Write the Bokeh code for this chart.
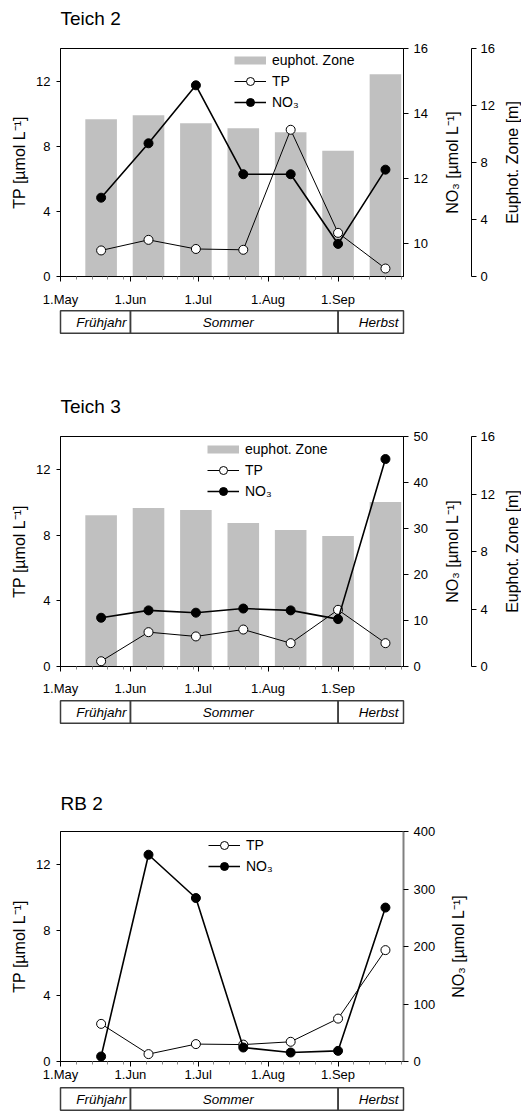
import pandas as pd
from bokeh.plotting import figure
from bokeh.layouts import column, row
from bokeh.models import (Range1d, LinearAxis, FixedTicker, Legend, LegendItem,
                          ColumnDataSource, Whisker, TeeHead, Title)
from bokeh.core.properties import value
from bokeh.embed import file_html
from bokeh.resources import INLINE

# ---------------------------------------------------------------- data
YEAR = 2007
sample_dates = ["05-19", "06-09", "06-30", "07-21", "08-11", "09-01", "09-22"]

# Teich 2
teich2_tp = [1.60, 2.25, 1.69, 1.64, 9.01, 2.68, 0.49]
teich2_no3 = [11.42, 13.09, 14.87, 12.14, 12.14, 10.00, 12.28]
teich2_no3_sd = [0, 0, 0, 0, 0, 0.18, 0]
teich2_zeu = [11.04, 11.32, 10.76, 10.41, 10.13, 8.83, 14.19]

# Teich 3
teich3_tp = [0.32, 2.09, 1.83, 2.25, 1.42, 3.45, 1.42]
teich3_no3 = [10.6, 12.2, 11.7, 12.6, 12.2, 10.3, 45.1]
teich3_zeu = [10.52, 11.03, 10.89, 9.99, 9.50, 9.08, 11.45]

# RB 2
rb2_tp = [2.29, 0.45, 1.06, 1.03, 1.20, 2.61, 6.78]
rb2_no3 = [8.7, 359.6, 284.3, 24.3, 15.6, 18.5, 267.7]

month_ticks = ["05-01", "06-01", "07-01", "08-01", "09-01"]
month_labels = ["1.May", "1.Jun", "1.Jul", "1.Aug", "1.Sep"]
axis_end = "09-30"
season_names = ["Frühjahr", "Sommer", "Herbst"]
season_bounds = ["05-01", "06-01", "09-01", "09-30"]

# ---------------------------------------------------------------- helpers
START = pd.Timestamp(f"{YEAR}-05-01")


def day(md):
    return (pd.Timestamp(f"{YEAR}-{md}") - START).days


FONT = "Liberation Sans"
BAR_GRAY = "#c0c0c0"
W = 521
MAIN_W = 438          # main plot incl. left axis and NO3 axis
BORDER_L = 60
FRAME_W = 343
X0, X1 = day(month_ticks[0]), day(axis_end)
x_days = [day(d) for d in sample_dates]
major_days = [day(m) for m in month_ticks]
minor_days = []
for i, d in enumerate(major_days):
    nxt = major_days[i + 1] if i + 1 < len(major_days) else X1
    minor_days += [d + k for k in (7, 14, 21, 28) if d + k < nxt]


def style_axis(ax, tick_out=5, standoff=5, label_standoff=5):
    ax.axis_label_text_font = FONT
    ax.axis_label_text_font_size = "16px"
    ax.axis_label_text_font_style = "normal"
    ax.axis_label_text_color = "black"
    ax.axis_label_standoff = label_standoff
    ax.major_label_text_font = FONT
    ax.major_label_text_font_size = "13px"
    ax.major_label_text_color = "black"
    ax.major_label_standoff = standoff
    ax.major_tick_in = 0
    ax.major_tick_out = tick_out
    ax.minor_tick_in = 0
    ax.minor_tick_out = 0
    ax.axis_line_color = "black"
    ax.major_tick_line_color = "black"


def side_title(text, standoff):
    return Title(text=text, align="center", text_font=FONT, text_font_size="16px",
                 text_font_style="normal", text_color="black", standoff=standoff)


def blank_fig(width, height, border_top, border_bottom, border_left, border_right,
              y_range, axis_right):
    f = figure(width=width, height=height, x_range=Range1d(0, 1), y_range=y_range,
               min_border_left=border_left, min_border_right=border_right,
               min_border_top=border_top, min_border_bottom=border_bottom,
               x_axis_location=None, y_axis_location="right" if axis_right else None,
               output_backend="svg", toolbar_location=None)
    f.grid.visible = False
    f.outline_line_color = None
    return f


def panel(title, tp, no3, no3_range, no3_ticks, height, border_top, border_bottom,
          x_standoff, legend_loc, title_gap, zeu=None, no3_sd=None,
          no3_axis_color="black", no3_axis_width=1):
    p = figure(width=MAIN_W, height=height, x_range=Range1d(X0, X1),
               y_range=Range1d(0, 14),
               min_border_left=BORDER_L, min_border_right=MAIN_W - BORDER_L - FRAME_W,
               min_border_top=border_top, min_border_bottom=border_bottom,
               output_backend="svg", toolbar_location=None)
    p.xgrid.visible = False
    p.ygrid.visible = False
    p.outline_line_color = "black"
    p.outline_line_width = 1

    p.title.text = title
    p.title.text_font = FONT
    p.title.text_font_size = "19px"
    p.title.text_font_style = "normal"
    p.title.text_color = "black"
    p.title.align = "left"
    p.title.standoff = 10
    # empty band between the panel title and the plot frame
    p.add_layout(Title(text=" ", text_font_size="2px", standoff=title_gap), "above")

    # bottom (date) axis
    xa = p.xaxis[0]
    style_axis(xa, tick_out=5, standoff=x_standoff)
    xa.ticker = FixedTicker(ticks=major_days, minor_ticks=minor_days)
    xa.major_label_overrides = {d: lab for d, lab in zip(major_days, month_labels)}
    xa.minor_tick_out = 3
    xa.minor_tick_line_color = "#8a8a8a"

    # left TP axis
    ya = p.yaxis[0]
    style_axis(ya, tick_out=4, standoff=6, label_standoff=5)
    ya.ticker = FixedTicker(ticks=[0, 4, 8, 12], minor_ticks=[])
    ya.axis_label = "TP [µmol L⁻¹]"

    p.extra_y_ranges = {"no3": Range1d(*no3_range)}
    src = dict(x=x_days, tp=tp, no3=no3)
    if zeu is not None:
        p.extra_y_ranges["zeu"] = Range1d(0, 16)
        src["zeu"] = zeu
    source = ColumnDataSource(src)

    # right NO3 axis
    ax_no3 = LinearAxis(y_range_name="no3")
    style_axis(ax_no3, tick_out=5, standoff=5)
    ax_no3.ticker = FixedTicker(ticks=no3_ticks, minor_ticks=[])
    ax_no3.axis_line_color = no3_axis_color
    ax_no3.axis_line_width = no3_axis_width
    p.add_layout(ax_no3, "right")

    items = []
    if zeu is not None:
        p.vbar(x="x", top="zeu", bottom=0, width=14, source=source, y_range_name="zeu",
               fill_color=BAR_GRAY, line_color=None)
        proxy = p.line(x=[float("nan")] * 2, y=[float("nan")] * 2, line_color=BAR_GRAY,
                       line_width=8, y_range_name="zeu")
        items.append(LegendItem(label="euphot. Zone", renderers=[proxy]))

    tp_line = p.line(x="x", y="tp", source=source, line_color="black", line_width=1)
    tp_pts = p.scatter(x="x", y="tp", source=source, size=9, fill_color="white",
                       line_color="black", line_width=1)

    if no3_sd is not None:
        rows = [(x, v, s) for x, v, s in zip(x_days, no3, no3_sd) if s > 0]
        err = ColumnDataSource(dict(x=[r[0] for r in rows],
                                    lower=[r[1] - r[2] for r in rows],
                                    upper=[r[1] + r[2] for r in rows]))
        p.add_layout(Whisker(source=err, base="x", lower="lower", upper="upper",
                             y_range_name="no3", line_color="black", line_width=1,
                             lower_head=TeeHead(size=6, line_color="black"),
                             upper_head=TeeHead(size=6, line_color="black")))

    no3_line = p.line(x="x", y="no3", source=source, y_range_name="no3",
                      line_color="black", line_width=1.6)
    no3_pts = p.scatter(x="x", y="no3", source=source, y_range_name="no3", size=9,
                        fill_color="black", line_color="black", line_width=1)

    items.append(LegendItem(label="TP", renderers=[tp_line, tp_pts]))
    items.append(LegendItem(label="NO₃", renderers=[no3_line, no3_pts]))
    legend = Legend(items=items, location=legend_loc, glyph_width=32, glyph_height=20,
                    label_height=20, label_standoff=6, spacing=1, padding=0, margin=0,
                    border_line_color=None, background_fill_alpha=0,
                    label_text_font=FONT, label_text_font_size="14px",
                    label_text_color="black")
    p.add_layout(legend)

    # right-hand block: NO3 title, euphotic-depth axis and its title
    rest = W - MAIN_W
    if zeu is not None:
        mid_w = 59
        mid = blank_fig(mid_w, height, border_top, border_bottom, 23, 26,
                        Range1d(0, 16), axis_right=True)
        style_axis(mid.yaxis[0], tick_out=5, standoff=4)
        mid.yaxis[0].ticker = FixedTicker(ticks=[0, 4, 8, 12, 16], minor_ticks=[])
        mid.add_layout(side_title("NO₃ [µmol L⁻¹]", 2), "left")
        end = blank_fig(rest - mid_w, height, border_top, border_bottom,
                        rest - mid_w - 1, 0, Range1d(0, 1), axis_right=False)
        end.add_layout(side_title("Euphot. Zone [m]", 0), "left")
        return row(p, mid, end, spacing=0)
    mid = blank_fig(rest, height, border_top, border_bottom, 29, rest - 30,
                    Range1d(0, 1), axis_right=False)
    mid.add_layout(side_title("NO₃ [µmol L⁻¹]", 2), "left")
    return row(p, mid, spacing=0)


def season_strip(height, border_top, border_bottom):
    pad = 2 * (X1 - X0) / FRAME_W
    s = figure(width=W, height=height, x_range=Range1d(X0 - pad, X1 + pad),
               y_range=Range1d(-0.05, 1.05),
               min_border_left=BORDER_L - 2, min_border_right=W - BORDER_L - FRAME_W - 2,
               min_border_top=border_top, min_border_bottom=border_bottom,
               x_axis_location=None, y_axis_location=None,
               output_backend="svg", toolbar_location=None)
    s.grid.visible = False
    s.outline_line_color = None
    b = [day(m) for m in season_bounds]
    s.quad(left=b[:-1], right=b[1:], bottom=0, top=1, fill_color=None,
           line_color="#3c3c3c", line_width=1.5)
    common = dict(text_font=value(FONT), text_font_style="italic",
                  text_font_size="13.5px", text_baseline="middle", text_color="black")
    s.text(x=[b[1]], y=[0.5], text=[season_names[0]], text_align="right",
           x_offset=-4, **common)
    s.text(x=[(b[1] + b[2]) / 2], y=[0.5], text=[season_names[1]], text_align="center",
           x_offset=-6, **common)
    s.text(x=[b[3]], y=[0.5], text=[season_names[2]], text_align="right",
           x_offset=-5, **common)
    return s


r1 = panel("Teich 2", teich2_tp, teich2_no3, (9, 16), [10, 12, 14, 16],
           height=309, border_top=47, border_bottom=33, x_standoff=10,
           legend_loc=(174, 164), title_gap=11, zeu=teich2_zeu, no3_sd=teich2_no3_sd)
s1 = season_strip(25, 0, 0)
r2 = panel("Teich 3", teich3_tp, teich3_no3, (0, 50), [0, 10, 20, 30, 40, 50],
           height=365, border_top=102, border_bottom=33, x_standoff=9,
           legend_loc=(147, 165), title_gap=11, zeu=teich3_zeu)
s2 = season_strip(25, 0, 0)
r3 = panel("RB 2", rb2_tp, rb2_no3, (0, 400), [0, 100, 200, 300, 400],
           height=362, border_top=107, border_bottom=25, x_standoff=0,
           legend_loc=(148, 185), title_gap=9,
           no3_axis_color="#808080", no3_axis_width=2)
s3 = season_strip(30, 0, 5)

layout = column(r1, s1, r2, s2, r3, s3, spacing=0)
open("out.html", "w").write(file_html(layout, INLINE))
